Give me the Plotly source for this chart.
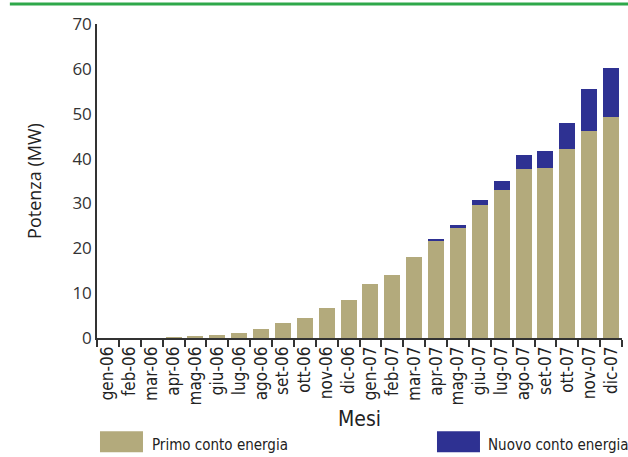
import plotly.graph_objects as go

# Monthly cumulative PV power (MW) under the two incentive schemes
months = ["gen-06", "feb-06", "mar-06", "apr-06", "mag-06", "giu-06", "lug-06", "ago-06",
          "set-06", "ott-06", "nov-06", "dic-06", "gen-07", "feb-07", "mar-07", "apr-07",
          "mag-07", "giu-07", "lug-07", "ago-07", "set-07", "ott-07", "nov-07", "dic-07"]
primo = [0.0, 0.0, 0.0, 0.05, 0.3, 0.6, 1.1, 2.0, 3.3, 4.5, 6.6, 8.4,
         12.0, 14.0, 18.0, 21.8, 24.7, 29.6, 33.1, 37.6, 37.8, 42.2, 46.2, 49.3]
nuovo = [0, 0, 0, 0, 0, 0, 0, 0, 0, 0, 0, 0,
         0, 0, 0, 0.25, 0.4, 1.1, 1.8, 3.3, 4.0, 5.8, 9.3, 10.9]

name_primo = "Primo conto energia"
name_nuovo = "Nuovo conto energia"
col_primo = "#b3aa7c"
col_nuovo = "#2e3192"

cond_font = "DejaVu Sans Condensed, sans-serif"
main_font = "Open Sans, sans-serif"

fig = go.Figure()
fig.add_bar(x=months, y=primo, name=name_primo, marker_color=col_primo,
            marker_line_width=0, showlegend=False)
fig.add_bar(x=months, y=nuovo, name=name_nuovo, marker_color=col_nuovo,
            marker_line_width=0, showlegend=False)

fig.update_layout(
    barmode="stack",
    bargap=0.27,
    width=628, height=457,
    margin=dict(l=97, r=6, t=24, b=118.5),
    plot_bgcolor="white", paper_bgcolor="white",
    font=dict(family=main_font, color="#333333"),
)

fig.update_xaxes(
    showline=True, linecolor="#333333", linewidth=1.5,
    ticks="outside", ticklen=7, tickcolor="#333333", tickwidth=1.5,
    tickmode="linear", dtick=1,
    tickson="boundaries", tickangle=-90,
    tickfont=dict(family=cond_font, size=17, color="#222222"),
    title=dict(text="Mesi", font=dict(family=cond_font, size=21, color="#222222"), standoff=7),
    showgrid=False,
)
fig.update_yaxes(
    range=[0, 70], dtick=10,
    showline=True, linecolor="#333333", linewidth=1.5,
    ticks="", showgrid=False, zeroline=False,
    tickfont=dict(family=main_font, size=17, color="#333333"),
    title=dict(text="Potenza (MW)", font=dict(family=main_font, size=18, color="#222222"), standoff=26),
)

# Green rule across the top
fig.add_shape(type="line", xref="paper", yref="paper",
              x0=-0.166, x1=1.012, y0=1.0636, y1=1.0636,
              line=dict(color="#2ea84a", width=3))

# Legend swatches and labels underneath the chart
for x0, x1, tx, col, label in [(0.0057, 0.0876, 0.101, col_primo, name_primo),
                               (0.6476, 0.7295, 0.741, col_nuovo, name_nuovo)]:
    fig.add_shape(type="rect", xref="paper", yref="paper",
                  x0=x0, x1=x1, y0=-0.364, y1=-0.297,
                  fillcolor=col, line_width=0)
    fig.add_annotation(xref="paper", yref="paper", x=tx, y=-0.342,
                       text=label, showarrow=False, xanchor="left", yanchor="middle",
                       font=dict(family=cond_font, size=15, color="#222222"))

fig.write_html("out.html")
